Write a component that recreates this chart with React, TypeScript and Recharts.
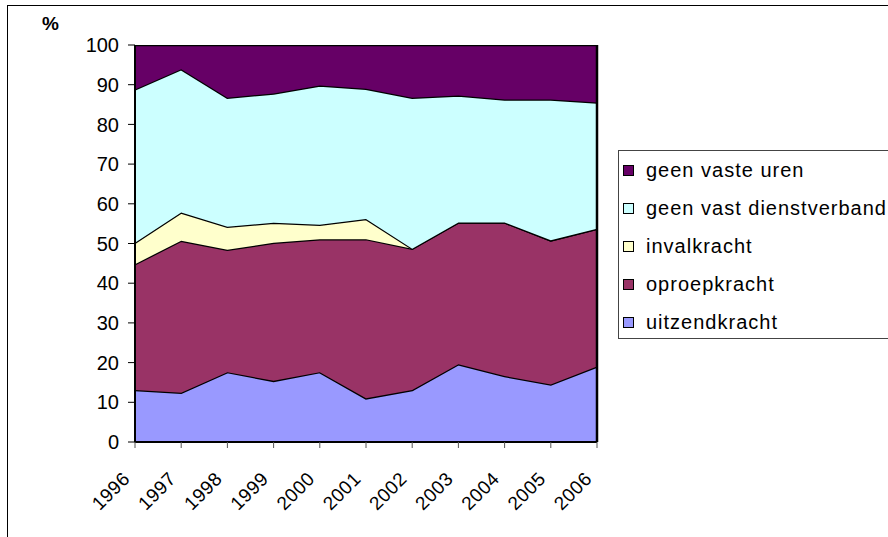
import { AreaChart, Area, XAxis, YAxis, ReferenceLine } from 'recharts'

const years = ['1996', '1997', '1998', '1999', '2000', '2001', '2002', '2003', '2004', '2005', '2006']
const uitzendkracht = [13.1, 12.4, 17.6, 15.4, 17.6, 11.0, 13.1, 19.6, 16.6, 14.5, 19.0]
const oproepkracht = [31.7, 38.3, 30.8, 34.8, 33.5, 40.1, 35.6, 35.7, 38.7, 36.3, 34.7]
const invalkracht = [5.4, 7.1, 5.8, 5.0, 3.6, 5.1, 0, 0, 0, 0, 0]
const geenVastDienstverband = [38.6, 36.1, 32.5, 32.6, 35.1, 32.8, 38.0, 32.0, 31.0, 35.5, 31.8]
const geenVasteUren = [11.2, 6.1, 13.3, 12.2, 10.2, 11.0, 13.3, 12.7, 13.7, 13.7, 14.5]
const yTicks = [0, 10, 20, 30, 40, 50, 60, 70, 80, 90, 100]

// bottom to top, as stacked
const series = [
  { key: 'uitzendkracht', color: '#9999FF' },
  { key: 'oproepkracht', color: '#993366' },
  { key: 'invalkracht', color: '#FFFFCC' },
  { key: 'geen vast dienstverband', color: '#CCFFFF' },
  { key: 'geen vaste uren', color: '#660066' },
]

const data = years.map((year, i) => ({
  year,
  uitzendkracht: uitzendkracht[i],
  oproepkracht: oproepkracht[i],
  invalkracht: invalkracht[i],
  'geen vast dienstverband': geenVastDienstverband[i],
  'geen vaste uren': geenVasteUren[i],
}))

const font = '"Liberation Sans", Arial, sans-serif'

function YearTick({ x, y, payload }: any) {
  const tx = x - 4
  const ty = y + 30
  return (
    <text x={tx} y={ty} transform={`rotate(-45, ${tx}, ${ty})`} textAnchor="end"
      fontSize={19} fontFamily={font} fill="#000" letterSpacing={0.5}>
      {payload.value}
    </text>
  )
}

export default function App() {
  return (
    <div style={{ position: 'fixed', left: 0, top: 0, width: 888, height: 537, overflow: 'hidden', background: '#fff', fontFamily: font }}>
      <div style={{ position: 'absolute', left: 7, top: 5, width: 920, height: 600, border: '1.5px solid #000' }} />
      <div style={{ position: 'absolute', left: 42, top: 13, fontSize: 19, fontWeight: 'bold' }}>%</div>
      <AreaChart width={888} height={537} data={data}
        margin={{ top: 45, left: 75, right: 291, bottom: 35 }}>
        <XAxis dataKey="year" scale="point" height={60} interval={0}
          tick={<YearTick />} tickSize={6} tickLine={{ stroke: '#555' }}
          axisLine={{ stroke: '#000', strokeWidth: 2 }} />
        <YAxis type="number" domain={[0, 100]} allowDataOverflow ticks={yTicks} interval={0} width={60}
          tickSize={7} tickMargin={9} tickLine={{ stroke: '#000' }}
          axisLine={{ stroke: '#000', strokeWidth: 2 }}
          tick={{ fontSize: 20, fill: '#000', fontFamily: font }} />
        {series.map(s => (
          <Area key={s.key} type="linear" dataKey={s.key} stackId="a" fill={s.color} fillOpacity={1}
            stroke="#000" strokeWidth={2.5} isAnimationActive={false} dot={false} activeDot={false} />
        ))}
        <ReferenceLine x="2006" stroke="#000" strokeWidth={2.5} />
      </AreaChart>
      <div style={{ position: 'absolute', left: 618, top: 150, width: 300, height: 187, border: '1px solid #444' }}>
        {[...series].reverse().map((s, i) => (
          <div key={s.key} style={{ position: 'absolute', left: 4, top: 8 + i * 38, height: 22, display: 'flex', alignItems: 'center', fontSize: 20, letterSpacing: 1, whiteSpace: 'nowrap' }}>
            <span style={{ width: 9, height: 9, background: s.color, border: '1px solid #000', marginRight: 12 }} />
            {s.key}
          </div>
        ))}
      </div>
    </div>
  )
}
